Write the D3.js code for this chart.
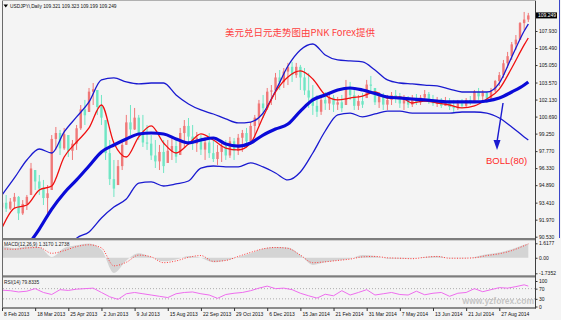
<!DOCTYPE html>
<html>
<head>
<meta charset="utf-8">
<script src="https://cdn.jsdelivr.net/npm/d3@7/dist/d3.min.js"></script>
<style>
  body { margin: 0; background: #f4f4f4; }
  text { font-family: "Liberation Sans", Arial, sans-serif; }
</style>
</head>
<body>
<svg id="chart" width="561" height="320"></svg>
<script>
// ---- values (USDJPY daily, bar index on x) ----
var dateIdx = [0, 32, 64, 96, 128, 160, 192, 224, 256, 288, 320, 352, 384, 416, 448, 480];
var dateLabels = ['8 Feb 2013', '18 Mar 2013', '25 Apr 2013', '2 Jun 2013', '9 Jul 2013', '15 Aug 2013',
  '22 Sep 2013', '29 Oct 2013', '6 Dec 2013', '15 Jan 2014', '21 Feb 2014', '31 Mar 2014',
  '7 May 2014', '13 Jun 2014', '21 Jul 2014', '27 Aug 2014'];
var priceTicks = [107.93, 106.49, 105.05, 103.57, 102.13, 100.69, 99.25, 97.77, 96.33, 94.89, 93.41, 91.97, 90.53];
var lastPrice = 109.249;
var macdTicks = [1.6177, 0, -1.7352];
var macdTickLabels = ['1.6177', '0.00', '-1.7352'];
var rsiTicks = [100, 70, 30, 0];
var rsiLevels = [70, 30];

// one candle per 4 bars
var firstOpen = 93.0;
var candleHigh = [93.89, 94.06, 93.80, 94.23, 93.97, 93.63, 94.06, 96.77, 96.17, 95.75,
  95.33, 94.90, 99.13, 99.81, 99.56, 99.73, 99.13, 98.71, 99.98, 101.67,
  102.10, 103.11, 103.53, 102.94, 102.52, 100.40, 98.71, 97.02, 97.02, 98.71,
  100.83, 101.67, 101.42, 100.83, 100.83, 99.98, 99.13, 98.71, 98.29, 98.71,
  98.71, 98.97, 98.71, 99.73, 100.40, 100.57, 99.98, 99.39, 99.13, 98.97,
  99.30, 98.71, 98.29, 98.71, 98.71, 98.97, 98.88, 99.22, 99.56, 99.73,
  100.23, 100.83, 102.10, 102.52, 103.11, 103.36, 104.38, 104.63, 104.80, 105.23,
  105.31, 105.23, 105.06, 104.80, 104.38, 103.36, 102.52, 102.52, 102.77, 102.69,
  102.52, 102.35, 102.52, 103.79, 103.62, 102.94, 102.52, 102.69, 103.79, 104.13,
  103.11, 102.77, 102.69, 102.52, 102.77, 102.94, 102.69, 102.52, 102.43, 102.52,
  102.60, 102.52, 102.94, 102.77, 102.52, 102.35, 102.26, 102.35, 102.26, 102.10,
  102.10, 102.18, 102.26, 102.43, 102.94, 103.11, 102.94, 102.77, 103.11, 103.79,
  104.46, 105.48, 106.16, 107.00, 107.59, 108.69, 109.54, 109.46];
var candleLow = [92.37, 92.62, 92.79, 92.96, 91.94, 92.37, 92.79, 94.06, 94.48, 94.06,
  93.21, 92.53, 94.48, 97.87, 97.44, 97.87, 97.27, 97.02, 97.87, 99.56,
  99.98, 101.08, 101.67, 100.83, 99.98, 97.02, 94.90, 93.89, 94.90, 96.17,
  98.29, 99.13, 99.56, 98.71, 98.12, 97.87, 97.02, 96.34, 96.17, 95.92,
  96.77, 97.02, 96.77, 97.44, 98.03, 98.29, 97.87, 97.70, 97.44, 97.02,
  97.19, 96.85, 96.60, 96.85, 97.02, 97.19, 97.02, 97.44, 97.70, 98.03,
  98.29, 98.88, 99.98, 100.57, 101.25, 101.67, 102.10, 102.94, 103.11, 103.36,
  103.62, 103.96, 102.94, 102.52, 101.42, 100.83, 100.66, 100.83, 101.25, 101.25,
  101.08, 101.25, 101.08, 101.67, 102.10, 101.25, 101.25, 101.42, 102.26, 102.77,
  101.67, 101.42, 101.25, 101.25, 101.67, 101.84, 101.42, 101.25, 101.42, 101.50,
  101.67, 101.67, 101.93, 101.76, 101.59, 101.50, 101.42, 101.59, 101.25, 101.08,
  101.25, 101.42, 101.42, 101.67, 101.84, 102.10, 101.93, 101.84, 102.10, 102.77,
  103.28, 103.96, 104.80, 105.48, 106.33, 107.17, 108.02, 108.69];
var candleClose = [93.40, 92.90, 93.50, 93.90, 92.50, 93.30, 93.90, 96.30, 95.20, 94.60,
  93.80, 94.20, 98.80, 99.30, 98.00, 99.20, 97.80, 98.40, 99.70, 101.30,
  100.80, 102.80, 103.00, 101.50, 100.60, 97.60, 95.40, 94.60, 96.50, 98.30,
  100.20, 99.60, 100.60, 99.20, 98.50, 98.40, 97.40, 96.90, 97.70, 96.50,
  97.80, 98.20, 97.30, 99.30, 99.90, 99.00, 98.40, 98.90, 97.90, 98.50,
  97.60, 97.10, 97.70, 98.20, 97.40, 98.60, 97.80, 98.90, 99.30, 98.60,
  99.90, 100.60, 101.80, 101.40, 102.80, 102.90, 104.00, 103.60, 104.50, 104.90,
  104.20, 104.90, 104.00, 102.90, 102.30, 101.60, 101.10, 102.10, 101.80, 102.30,
  101.70, 101.90, 101.40, 103.20, 102.50, 101.60, 102.00, 101.70, 103.40, 103.30,
  101.90, 102.40, 101.70, 102.10, 102.50, 102.20, 101.80, 102.10, 101.70, 102.20,
  101.90, 102.30, 102.60, 102.00, 101.80, 102.10, 101.60, 102.00, 101.50, 101.40,
  101.80, 101.60, 102.10, 101.90, 102.80, 102.40, 102.70, 102.20, 102.90, 103.70,
  104.20, 105.20, 105.80, 106.80, 107.20, 108.60, 108.90, 109.25];

// indicator lines, sampled every 12 bars
var lineIdx = [0, 12, 24, 36, 48, 60, 72, 84, 96, 108, 120, 132, 144, 156, 168, 180, 192, 204, 216, 228,
  240, 252, 264, 276, 288, 300, 312, 324, 336, 348, 360, 372, 384, 396, 408, 420, 432, 444, 456, 468,
  480, 492, 504, 508];
var bollMid = [86.61, 88.14, 89.66, 91.18, 92.87, 94.23, 95.33, 96.51, 97.70, 98.29,
  98.80, 99.22, 99.30, 99.22, 98.80, 98.46, 98.71, 98.88, 98.37, 98.20,
  98.46, 99.13, 99.64, 100.06, 101.16, 102.10, 102.52, 102.94, 103.11, 102.94,
  102.64, 102.35, 102.26, 102.18, 102.10, 102.01, 101.93, 101.93, 101.93, 102.01,
  102.26, 102.77, 103.36, 103.62];
var bollUpper = [94.06, 95.50, 97.02, 97.95, 97.61, 99.39, 100.66, 101.93, 103.79, 103.96,
  103.62, 103.45, 103.53, 103.53, 102.52, 101.76, 101.25, 100.91, 100.49, 100.15,
  100.23, 100.99, 102.86, 104.97, 106.33, 106.83, 105.90, 105.48, 105.40, 105.31,
  104.63, 103.79, 103.53, 103.45, 103.36, 103.28, 103.02, 102.77, 102.77, 102.77,
  103.53, 105.73, 107.93, 108.52];
var bollLower = [79.20, 80.80, 82.30, 84.40, 88.10, 89.10, 90.40, 90.93, 92.11, 93.04,
  93.72, 95.07, 95.16, 94.82, 94.99, 95.24, 96.34, 96.51, 96.43, 96.43,
  96.77, 96.43, 95.92, 95.33, 96.00, 97.61, 99.47, 100.83, 100.99, 100.66,
  100.91, 101.16, 101.16, 100.99, 100.99, 100.99, 100.99, 101.08, 101.08, 100.99,
  100.57, 99.81, 98.97, 98.71];
var maRed = [91.27, 92.95, 93.21, 94.48, 94.82, 97.27, 98.54, 99.73, 101.67, 98.46,
  97.27, 98.97, 99.90, 98.46, 97.61, 98.37, 99.22, 98.71, 98.03, 97.87,
  98.46, 100.66, 102.77, 104.04, 104.55, 103.87, 102.52, 102.10, 102.26, 102.43,
  102.77, 102.26, 102.35, 101.84, 102.01, 101.84, 101.67, 101.42, 101.59, 102.18,
  103.02, 104.80, 106.75, 107.34];
var macdHist = [1.30, 1.10, 1.25, 1.20, 0.10, 1.10, 1.40, 1.60, 0.90, -1.70,
  -0.30, 0.50, 0.10, -0.40, -0.20, 0.20, 0.00, -0.50, -0.30, 0.10,
  0.50, 1.00, 1.20, 1.15, 0.30, -0.80, -0.50, -0.30, -0.10, 0.30,
  0.20, -0.10, -0.10, -0.05, 0.10, 0.20, -0.05, -0.05, 0.10, 0.40,
  0.60, 0.95, 1.45, 1.60];
var macdSignal = [1.00, 0.95, 1.10, 1.15, 0.50, 0.80, 1.25, 1.45, 1.10, -0.90,
  -0.50, 0.30, 0.10, -0.55, -0.35, 0.05, 0.25, -0.40, -0.30, 0.15,
  0.60, 1.00, 1.15, 1.05, 0.30, -0.55, -0.45, -0.30, -0.15, 0.10,
  0.15, 0.00, -0.05, -0.10, 0.05, 0.15, -0.05, -0.05, 0.00, 0.25,
  0.45, 0.80, 1.35, 1.55];

// RSI sampled every 8 bars
var rsiIdx = [0, 8, 16, 24, 32, 40, 48, 56, 64, 72, 80, 88, 96, 104, 112, 120, 128, 136, 144, 152,
  160, 168, 176, 184, 192, 200, 208, 216, 224, 232, 240, 248, 256, 264, 272, 280, 288, 296, 304, 312,
  320, 328, 336, 344, 352, 360, 368, 376, 384, 392, 400, 408, 416, 424, 432, 440, 448, 456, 464, 472,
  480, 488, 496, 504, 508];
var rsiVals = [64, 62, 57, 60, 70, 55, 47, 66, 63, 68, 70, 72, 55, 38, 28, 50, 55, 50, 45, 40,
  35, 50, 55, 57, 50, 45, 32, 47, 52, 55, 62, 72, 80, 70, 72, 66, 52, 42, 33, 48,
  42, 62, 45, 55, 66, 45, 50, 55, 47, 45, 60, 46, 52, 55, 40, 52, 55, 70, 58, 66,
  74, 72, 78, 85, 80];

// ---- drawing ----
var svg = d3.select('#chart');
var upColor = '#f07878', downColor = '#6fe6c4';

var x = d3.scaleLinear().domain([0, 480]).range([2, 499.3]);
var yPrice = d3.scaleLinear().domain([90.53, 107.93]).range([236.7, 31]);
var yMacd = d3.scaleLinear().domain([-1.7352, 1.6177]).range([273.3, 243.3]);
var yRsi = d3.scaleLinear().domain([0, 100]).range([306.5, 281]);

svg.append('rect').attr('width', 561).attr('height', 320).attr('fill', '#f4f4f4');

var defs = svg.append('defs');
function addClip(id, y0, y1) {
  defs.append('clipPath').attr('id', id).append('rect')
    .attr('x', 3).attr('y', y0).attr('width', 532).attr('height', y1 - y0);
}
addClip('cMain', 0, 238);
addClip('cMacd', 240.5, 275.3);
addClip('cRsi', 277.5, 307.5);

// candles
var candles = candleClose.map(function(c, i) {
  var prev = i ? candleClose[i - 1] : firstOpen;
  var o = Math.max(candleLow[i], Math.min(candleHigh[i], prev));
  return { i: i * 4, h: candleHigh[i], l: candleLow[i], o: o, c: c };
});
var gMain = svg.append('g').attr('clip-path', 'url(#cMain)');
var cg = gMain.selectAll('g.candle').data(candles).enter().append('g').attr('class', 'candle');
cg.append('line')
  .attr('x1', function(d) { return x(d.i); })
  .attr('x2', function(d) { return x(d.i); })
  .attr('y1', function(d) { return yPrice(d.h); })
  .attr('y2', function(d) { return yPrice(d.l); })
  .attr('stroke', function(d) { return d.c >= d.o ? upColor : downColor; })
  .attr('stroke-width', 1);
cg.append('rect')
  .attr('x', function(d) { return x(d.i) - 1.2; })
  .attr('width', 2.4)
  .attr('y', function(d) { return yPrice(Math.max(d.o, d.c)); })
  .attr('height', function(d) { return Math.max(1, Math.abs(yPrice(d.o) - yPrice(d.c))); })
  .attr('fill', function(d) { return d.c >= d.o ? upColor : downColor; });

function priceLine(vals) {
  return d3.line()
    .x(function(d, i) { return x(lineIdx[i]); })
    .y(function(d) { return yPrice(d); })
    .curve(d3.curveMonotoneX)(vals);
}
gMain.append('path').attr('d', priceLine(bollUpper)).attr('fill', 'none').attr('stroke', '#1a1ad0').attr('stroke-width', 1.3);
gMain.append('path').attr('d', priceLine(bollLower)).attr('fill', 'none').attr('stroke', '#1a1ad0').attr('stroke-width', 1.3);
gMain.append('path').attr('d', priceLine(maRed)).attr('fill', 'none').attr('stroke', '#f01010').attr('stroke-width', 1.3);
gMain.append('path').attr('d', priceLine(bollMid)).attr('fill', 'none').attr('stroke', '#0a0ad8').attr('stroke-width', 3.2);

// MACD panel
var gMacd = svg.append('g').attr('clip-path', 'url(#cMacd)');
gMacd.append('path').datum(macdHist)
  .attr('d', d3.area()
    .x(function(d, i) { return x(lineIdx[i]); })
    .y0(yMacd(0))
    .y1(function(d) { return yMacd(d); })
    .curve(d3.curveMonotoneX))
  .attr('fill', '#d4d4d4');
gMacd.append('path').datum(macdSignal)
  .attr('d', d3.line()
    .x(function(d, i) { return x(lineIdx[i]); })
    .y(function(d) { return yMacd(d); })
    .curve(d3.curveMonotoneX))
  .attr('fill', 'none').attr('stroke', '#ff3a3a').attr('stroke-width', 1)
  .attr('stroke-dasharray', '1,1.6');

// RSI panel
var gRsi = svg.append('g').attr('clip-path', 'url(#cRsi)');
gRsi.selectAll('line.lvl').data(rsiLevels).enter().append('line')
  .attr('x1', 3).attr('x2', 535)
  .attr('y1', function(d) { return yRsi(d); })
  .attr('y2', function(d) { return yRsi(d); })
  .attr('stroke', '#9a9a9a').attr('stroke-width', 0.8).attr('stroke-dasharray', '1,2');
gRsi.append('path').datum(rsiVals)
  .attr('d', d3.line()
    .x(function(d, i) { return x(rsiIdx[i]); })
    .y(function(d) { return yRsi(d); }))
  .attr('fill', 'none').attr('stroke', '#ee6cee').attr('stroke-width', 1);

// watermark, kept left of the price scale
svg.append('text').attr('x', 534).attr('y', 303.5).attr('text-anchor', 'end')
  .attr('font-size', 8.5).attr('font-weight', 'bold')
  .attr('fill', '#c4c4c4').text('www.yzforex.com');

// frame and separators
svg.append('rect').attr('x', 2).attr('y', 238).attr('width', 534).attr('height', 2.3).attr('fill', '#7c7c7c');
svg.append('rect').attr('x', 2).attr('y', 275.3).attr('width', 534).attr('height', 2.2).attr('fill', '#7c7c7c');
svg.append('rect').attr('x', 2).attr('y', 307.4).attr('width', 534).attr('height', 1.2).attr('fill', '#4a4a4a');
svg.append('line').attr('x1', 2.5).attr('x2', 2.5).attr('y1', 0).attr('y2', 308)
  .attr('stroke', '#6a6a6a').attr('stroke-width', 1);
svg.append('line').attr('x1', 535.5).attr('x2', 535.5).attr('y1', 0).attr('y2', 308.5)
  .attr('stroke', '#404040').attr('stroke-width', 1);
svg.append('line').attr('x1', 2).attr('x2', 536).attr('y1', 0.5).attr('y2', 0.5)
  .attr('stroke', '#b0b0b0').attr('stroke-width', 1);
svg.append('line').attr('x1', 559.5).attr('x2', 559.5).attr('y1', 0).attr('y2', 238)
  .attr('stroke', '#3a46c8').attr('stroke-width', 1);

// right-hand scales
function rightAxis(scale, vals, fmt) {
  var g = svg.append('g').attr('transform', 'translate(535.5,0)')
    .call(d3.axisRight(scale).tickValues(vals).tickFormat(fmt).tickSize(2).tickPadding(1.5));
  g.select('.domain').remove();
  g.attr('font-size', 5).attr('font-family', '"Liberation Sans", Arial, sans-serif');
  g.selectAll('line').attr('stroke', '#333');
  g.selectAll('text').attr('fill', '#111');
  return g;
}
rightAxis(yPrice, priceTicks, d3.format('.3f'));
rightAxis(yMacd, macdTicks, function(d, i) { return macdTickLabels[i]; });
rightAxis(yRsi, rsiTicks, function(d) { return d; });

// last price box
var yLast = yPrice(lastPrice);
svg.append('rect').attr('x', 536).attr('y', yLast - 3).attr('width', 21).attr('height', 6).attr('fill', '#000');
svg.append('text').attr('x', 538).attr('y', yLast + 1.8).attr('font-size', 5).attr('fill', '#fff')
  .text(d3.format('.3f')(lastPrice));

// date axis
var axDate = svg.append('g').attr('transform', 'translate(0,308)')
  .call(d3.axisBottom(x).tickValues(dateIdx)
    .tickFormat(function(d, i) { return dateLabels[i]; })
    .tickSize(3).tickPadding(1));
axDate.select('.domain').remove();
axDate.attr('font-size', 5).attr('font-family', '"Liberation Sans", Arial, sans-serif');
axDate.selectAll('line').attr('stroke', '#333');
axDate.selectAll('text').attr('text-anchor', 'start').attr('dx', 1.5).attr('fill', '#111');

// texts
svg.append('path').attr('d', 'M3.5,4.5 L8,4.5 L5.75,7.5 Z').attr('fill', '#000');
svg.append('text').attr('x', 10).attr('y', 8).attr('font-size', 4.8).attr('fill', '#111')
  .text('USDJPYi,Daily  109.321 109.323 109.199 109.249');
svg.append('text').attr('x', 300).attr('y', 36).attr('text-anchor', 'middle')
  .attr('font-size', 9.5).attr('fill', '#ff4040')
  .style('font-family', '"Noto Sans CJK SC", sans-serif')
  .text('美元兑日元走势图由PNK Forex提供');
svg.append('text').attr('x', 4).attr('y', 245.8).attr('font-size', 4.8).attr('fill', '#222')
  .text('MACD(12,26,9) 1.3170 1.2738');
svg.append('text').attr('x', 4).attr('y', 284).attr('font-size', 4.8).attr('fill', '#222')
  .text('RSI(14) 79.8335');

// BOLL(80) annotation with arrow
var aFrom = [x(483.6), yPrice(101.84)], aTip = [x(477.8), yPrice(97.87)];
svg.append('line').attr('x1', aFrom[0]).attr('y1', aFrom[1]).attr('x2', aTip[0]).attr('y2', aTip[1] - 8)
  .attr('stroke', '#1a1ad0').attr('stroke-width', 1.4);
svg.append('path')
  .attr('d', 'M' + (aTip[0] - 3.5) + ',' + (aTip[1] - 10) + ' L' + (aTip[0] + 3.5) + ',' + (aTip[1] - 10) +
    ' L' + aTip[0] + ',' + aTip[1] + ' Z')
  .attr('fill', '#1a1ad0');
svg.append('text').attr('x', x(487)).attr('y', 164).attr('text-anchor', 'middle')
  .attr('font-size', 9.5).attr('fill', '#ff2a2a').text('BOLL(80)');
</script>
</body>
</html>
